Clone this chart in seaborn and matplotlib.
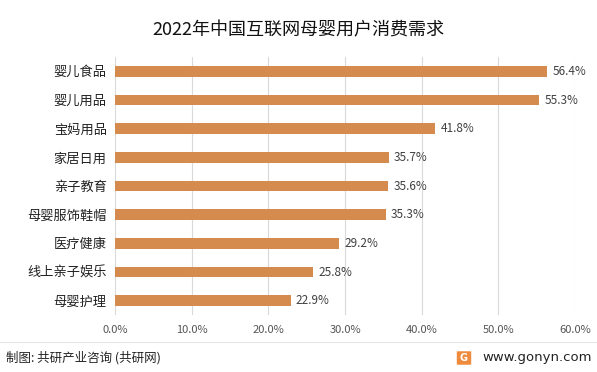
import matplotlib
matplotlib.use("Agg")
import matplotlib.pyplot as plt
import seaborn as sns
import pandas as pd
from matplotlib.patches import FancyBboxPatch

categories = ["婴儿食品", "婴儿用品", "宝妈用品", "家居日用", "亲子教育",
              "母婴服饰鞋帽", "医疗健康", "线上亲子娱乐", "母婴护理"]
values = [56.4, 55.3, 41.8, 35.7, 35.6, 35.3, 29.2, 25.8, 22.9]
xticks = [0, 10, 20, 30, 40, 50, 60]
title = "2022年中国互联网母婴用户消费需求"
source = "制图: 共研产业咨询 (共研网)"
site = "www.gonyn.com"

sns.set_theme(style="white")
plt.rcParams['font.family'] = ['Noto Sans CJK SC', 'DejaVu Sans']

df = pd.DataFrame({"cat": categories, "val": values})

fig = plt.figure(figsize=(5.97, 3.72), dpi=100)
ax = fig.add_axes([115/597, 1-315/372, 460/597, 258/372])

sns.barplot(data=df, x="val", y="cat", color="#D58B4D", saturation=1,
            width=0.38, ax=ax, orient="h", edgecolor="none", linewidth=0)
ax.set_xlim(0, 60)
ax.set_ylim(8.5, -0.5)
ax.set_xticks(xticks)
ax.set_xticklabels([f"{t:.1f}%" for t in xticks], fontsize=8, color="#555555")
ax.tick_params(axis="x", length=0, pad=7)
ax.tick_params(axis="y", length=0, pad=6, labelsize=9.5, labelcolor="#222222")
ax.set_xlabel("")
ax.set_ylabel("")
ax.grid(axis="x", color="#D9D9D9", linewidth=0.8)
ax.set_axisbelow(True)
for s in ax.spines.values():
    s.set_visible(False)

for i, v in enumerate(values):
    ax.text(v + 0.7, i, f"{v}%", va="center", ha="left", fontsize=8.5, color="#404040")

fig.text(0.5, 1-30/372, title, ha="center", va="center", fontsize=13, color="#111111")

fig.add_artist(plt.Line2D([0, 1], [1-342/372, 1-342/372], color="#E6E6E6", linewidth=0.8))
fig.text(6/597, 1-358/372, source, ha="left", va="center", fontsize=9, color="#222222")
fig.text(592/597, 1-358/372, site, ha="right", va="center", fontsize=9.5, color="#222222",
         family=['DejaVu Sans'])
logo = FancyBboxPatch((458/597, 1-364/372), 12/597, 12/372, boxstyle="round,pad=0.002",
                      transform=fig.transFigure, facecolor="#F08A3C", edgecolor="none")
fig.add_artist(logo)
fig.text(464/597, 1-358/372, "G", ha="center", va="center", fontsize=7, color="white",
         weight="bold", family=['DejaVu Sans'])

fig.savefig("out.png", dpi=100)
